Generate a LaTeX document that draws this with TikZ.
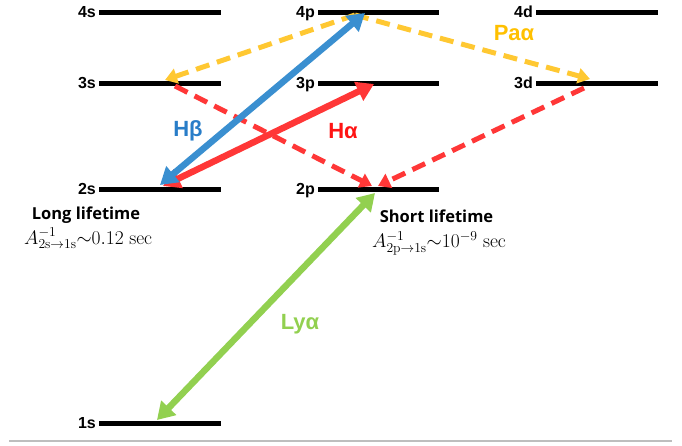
\RequirePackage{fix-cm}
\documentclass[tikz,border=0pt]{standalone}
\usepackage[no-math]{fontspec}
\setmainfont{Liberation Sans}
\newfontfamily\lifefont{Open Sans}
\usetikzlibrary{arrows.meta}

\definecolor{hbetacol}{RGB}{58,143,208}
\definecolor{hbetatxt}{RGB}{40,125,200}
\definecolor{halphacol}{RGB}{255,55,55}
\definecolor{halphatxt}{RGB}{255,20,20}
\definecolor{paalphacol}{RGB}{255,200,50}
\definecolor{paalphatxt}{RGB}{255,192,0}
\definecolor{lyalphacol}{RGB}{146,208,80}
\definecolor{rulegray}{RGB}{190,190,190}

\tikzset{
  level/.style={line width=5pt, black},
  lvllabel/.style={font=\bfseries\fontsize{16}{16}\selectfont, anchor=base east, inner sep=0pt},
  solidarrow/.style={line width=6.5pt,
    {Triangle[length=17pt,width=20pt]}-{Triangle[length=17pt,width=20pt]}},
  dasharrow/.style={line width=5pt, dash pattern=on 14pt off 8pt,
    -{Triangle[length=12pt,width=15pt]}},
  greek/.style={font=\bfseries\fontsize{22}{22}\selectfont, inner sep=0pt},
  lifetitle/.style={font=\lifefont\bfseries\fontsize{16.5}{16.5}\selectfont, anchor=base, inner sep=0pt},
  lifemath/.style={font=\fontsize{19.5}{19.5}\selectfont, anchor=base west, inner sep=0pt},
}

\begin{document}
\begin{tikzpicture}[x=1pt,y=-1pt]
\useasboundingbox (0,0) rectangle (682,445);

% energy levels: s, p and d columns
\foreach \n/\y in {4/12,3/83,2/189,1/423}{
  \coordinate (s\n a) at (99,\y);
  \coordinate (s\n b) at (221,\y);
}
\foreach \n/\y in {4/12,3/83,2/189}{
  \coordinate (p\n a) at (318,\y);
  \coordinate (p\n b) at (439,\y);
}
\foreach \n/\y in {4/12,3/83}{
  \coordinate (d\n a) at (536,\y);
  \coordinate (d\n b) at (658,\y);
}
\foreach \n in {4,3,2,1}{ \draw[level] (s\n a) -- (s\n b); }
\foreach \n in {4,3,2}{ \draw[level] (p\n a) -- (p\n b); }
\foreach \n in {4,3}{ \draw[level] (d\n a) -- (d\n b); }

% level labels
\node[lvllabel] (t4s) at (96,17.7) {4s};
\node[lvllabel] (t3s) at (96,88.7) {3s};
\node[lvllabel] (t2s) at (96,194.7) {2s};
\node[lvllabel] (t1s) at (96,428.7) {1s};
\node[lvllabel] (t4p) at (315,17.7) {4p};
\node[lvllabel] (t3p) at (315,88.7) {3p};
\node[lvllabel] (t2p) at (315,194.7) {2p};
\node[lvllabel] (t4d) at (533,17.7) {4d};
\node[lvllabel] (t3d) at (533,88.7) {3d};

% transition end points
\coordinate (hbLo) at (160,185);
\coordinate (hbHi) at (365,13);
\coordinate (haLo) at (163,186);
\coordinate (haHi) at (374,84);
\coordinate (lyLo) at (157,420);
\coordinate (lyHi) at (375,193);
\coordinate (paO) at (355,15);
\coordinate (paL) at (165,80);
\coordinate (paR) at (590,79);
\coordinate (rs3) at (175,86);
\coordinate (rpL) at (372,186);
\coordinate (rd3) at (584,88);
\coordinate (rpR) at (378,186);

% cascades through 3s and 3d into 2p
\draw[dasharrow, halphacol] (rs3) -- (rpL);
\draw[dasharrow, halphacol] (rd3) -- (rpR);
% Paschen alpha from 4p
\draw[dasharrow, paalphacol] (paO) -- (paL);
\draw[dasharrow, paalphacol] (paO) -- (paR);
% Balmer and Lyman lines
\draw[solidarrow, halphacol] (haLo) -- (haHi);
\draw[solidarrow, hbetacol] (hbLo) -- (hbHi);
\draw[solidarrow, lyalphacol] (lyLo) -- (lyHi);

% line labels
\node[greek, text=hbetatxt] (lhb) at (188,131) {Hβ};
\node[greek, text=halphatxt] (lha) at (343,131) {Hα};
\node[greek, text=paalphatxt] (lpa) at (514,33) {Paα};
\node[greek, text=lyalphacol] (lly) at (300,324) {Lyα};

% lifetimes
\node[lifetitle] (long) at (86,219) {Long lifetime};
\node[lifemath] (longA) at (24,244) {$A^{-1}_{2\mathrm{s}\rightarrow 1\mathrm{s}}{\sim}0.12\ \mathrm{sec}$};
\node[lifetitle] (short) at (436.5,222) {Short lifetime};
\node[lifemath] (shortA) at (372,247.5) {$A^{-1}_{2\mathrm{p}\rightarrow 1\mathrm{s}}{\sim}10^{-9}\ \mathrm{sec}$};

% base rule
\coordinate (ruleL) at (9,441);
\coordinate (ruleR) at (672,441);
\draw[rulegray, line width=1.5pt] (ruleL) -- (ruleR);
\end{tikzpicture}
\end{document}
